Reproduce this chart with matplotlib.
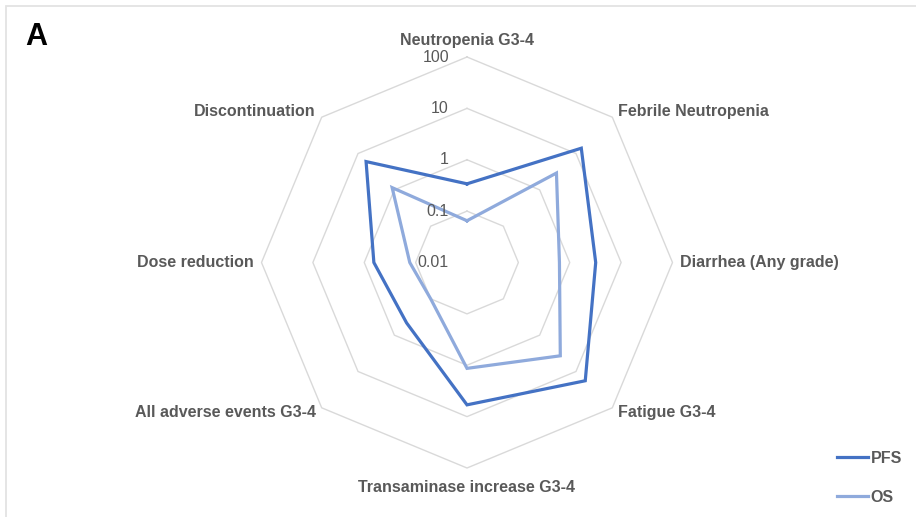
import numpy as np
import matplotlib
matplotlib.use("Agg")
import matplotlib.pyplot as plt
from matplotlib.patches import Rectangle

plt.rcParams['font.family'] = ['Liberation Sans', 'DejaVu Sans']

categories = ["Neutropenia G3-4", "Febrile Neutropenia", "Diarrhea (Any grade)",
              "Fatigue G3-4", "Transaminase increase G3-4", "All adverse events G3-4",
              "Dose reduction", "Discontinuation"]
pfs = [0.34, 14, 3.2, 18, 5.9, 0.46, 0.65, 6.0]
os_ = [0.065, 2.9, 0.63, 3.7, 1.15, 0.10, 0.13, 1.15]
ring_values = [0.01, 0.1, 1, 10, 100]
ring_labels = ["0.01", "0.1", "1", "10", "100"]

PFS_COLOR = "#4472C4"
OS_COLOR = "#8FAADC"
GRID_COLOR = "#D9D9D9"
TEXT_COLOR = "#595959"

W, H = 916, 517
fig = plt.figure(figsize=(W / 100, H / 100), dpi=100)
fig.patch.set_facecolor("white")

# frame border
fig.add_artist(Rectangle((6 / W, -0.1), 1.2, (H - 6) / H + 0.1, transform=fig.transFigure,
                         fill=False, edgecolor="#E3E3E3", linewidth=1.3))

cx, cy, R = 467, 262.5, 205.5
ax = fig.add_axes([(cx - R) / W, (H - cy - R) / H, 2 * R / W, 2 * R / H], projection='polar')
ax.set_theta_zero_location('N')
ax.set_theta_direction(-1)
ax.set_rscale('log')
ax.set_rlim(ring_values[0], ring_values[-1])
ax.grid(False)
ax.set_xticks([])
ax.set_yticks([])
ax.spines['polar'].set_visible(False)
ax.patch.set_alpha(0)

n = len(categories)
theta = np.arange(n) * 2 * np.pi / n
theta_c = np.append(theta, theta[0])

for v in ring_values[1:]:
    ax.plot(theta_c, [v] * (n + 1), color=GRID_COLOR, lw=1.0, zorder=1, clip_on=False)

l1, = ax.plot(theta_c, pfs + [pfs[0]], color=PFS_COLOR, lw=2.3, zorder=3, clip_on=False,
              solid_joinstyle='miter', label="PFS")
l2, = ax.plot(theta_c, os_ + [os_[0]], color=OS_COLOR, lw=2.3, zorder=2, clip_on=False,
              solid_joinstyle='miter', label="OS")

# ring labels
for v, s in zip(ring_values, ring_labels):
    ax.annotate(s, xy=(0, v), xytext=(-18, 0), textcoords='offset pixels',
                ha='right', va='center', fontsize=11.5, color=TEXT_COLOR,
                annotation_clip=False)

# category labels
offsets = [(0, 17, 'center'), (6, 6, 'left'), (8, 0, 'left'), (6, -5, 'left'),
           (0, -19, 'center'), (-6, -5, 'right'), (-8, 0, 'right'), (-6, 6, 'right')]
for t, name, (dx, dy, ha) in zip(theta, categories, offsets):
    ax.annotate(name, xy=(t, ring_values[-1]), xytext=(dx, dy), textcoords='offset pixels',
                ha=ha, va='center', fontsize=11.5, fontweight='bold', color=TEXT_COLOR,
                annotation_clip=False)

fig.text(25 / W, 1 - 22 / H, "A", ha='left', va='top', fontsize=22, fontweight='bold', color='black')

leg = fig.legend(handles=[l1, l2], loc='upper left', bbox_to_anchor=(837 / W, 1 - 451 / H),
                 frameon=False, fontsize=11.5, handlelength=1.95, handletextpad=0.15,
                 labelspacing=1.5, borderpad=0, borderaxespad=0)
for t in leg.get_texts():
    t.set_color(TEXT_COLOR)
    t.set_fontweight('bold')

fig.savefig("out.png", dpi=100)
